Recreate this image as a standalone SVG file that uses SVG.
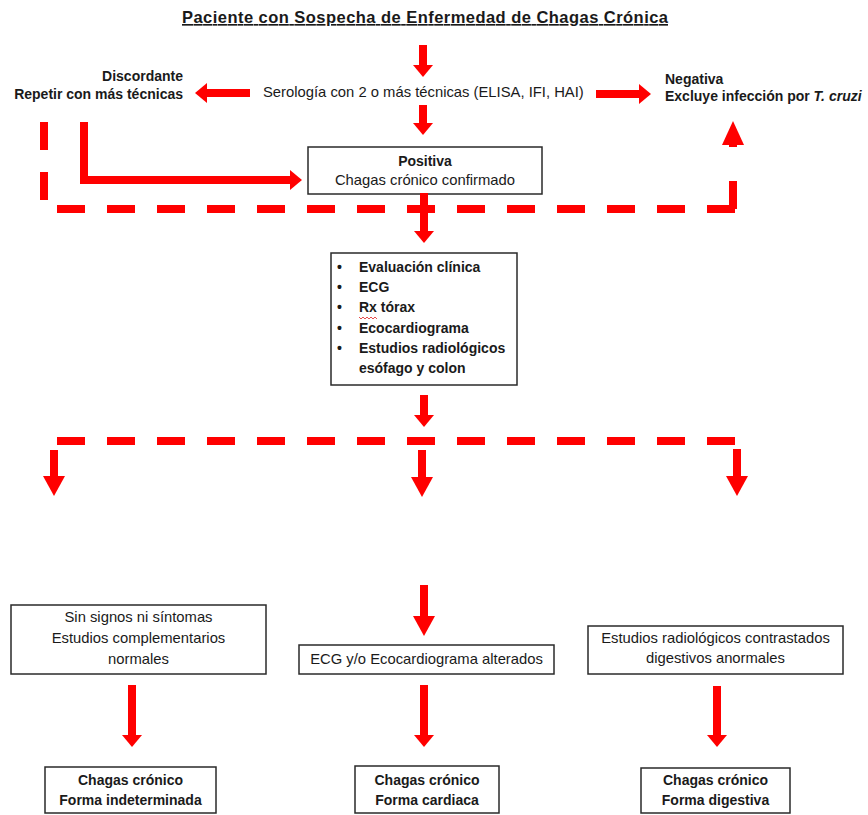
<svg xmlns="http://www.w3.org/2000/svg" width="868" height="815" viewBox="0 0 868 815">
<defs>
<style>
text{font-family:"Liberation Sans",Arial,sans-serif;fill:#1a1a1a}
.r{font-size:14.8px}
.b{font-size:14px;font-weight:bold}
.t{font-size:16.5px;font-weight:bold;text-decoration:underline}
.m{text-anchor:middle}
.e{text-anchor:end}
.box{fill:#fff;stroke:#2a2a2a;stroke-width:1.5}
.a{stroke:#ff0000;stroke-width:8;fill:none}
.d{stroke:#ff0000;stroke-width:8;fill:none;stroke-dasharray:28 22}
</style>
<marker id="hs" markerUnits="userSpaceOnUse" viewBox="0 0 12 20" markerWidth="12" markerHeight="20" refX="0" refY="10" orient="auto"><path d="M0,0 L12,10 L0,20 z" fill="#ff0000"/></marker>
<marker id="hl" markerUnits="userSpaceOnUse" viewBox="0 0 20 22" markerWidth="20" markerHeight="22" refX="0" refY="11" orient="auto"><path d="M0,0 L20,11 L0,22 z" fill="#ff0000"/></marker>
<marker id="hu" markerUnits="userSpaceOnUse" viewBox="0 0 24 22" markerWidth="24" markerHeight="22" refX="0" refY="11" orient="auto"><path d="M0,0 L24,11 L0,22 z" fill="#ff0000"/></marker>
</defs>
<rect width="868" height="815" fill="#fff"/>

<g id="title"><text class="t" x="182" y="23" textLength="486" lengthAdjust="spacing">Paciente con Sospecha de Enfermedad de Chagas Crónica</text></g>

<g id="serologia"><text class="r" x="263" y="97">Serología con 2 o más técnicas (ELISA, IFI, HAI)</text></g>

<g id="discordante">
<text class="b e" x="183" y="81">Discordante</text>
<text class="b e" x="183" y="99">Repetir con más técnicas</text>
</g>

<g id="negativa">
<text class="b" x="665" y="84">Negativa</text>
<text class="b" x="665" y="101">Excluye infección por <tspan font-style="italic">T. cruzi</tspan></text>
</g>

<g id="positiva">
<rect class="box" x="308" y="147" width="234" height="47"/>
<text class="b m" x="425" y="166">Positiva</text>
<text class="r m" x="425" y="185">Chagas crónico confirmado</text>
</g>

<g id="evaluacion">
<rect class="box" x="331" y="253" width="186" height="132"/>
<text class="b" x="337" y="272">•</text><text class="b" x="359" y="272">Evaluación clínica</text>
<text class="b" x="337" y="292">•</text><text class="b" x="359" y="292">ECG</text>
<text class="b" x="337" y="312">•</text><text class="b" x="359" y="312">Rx tórax</text>
<path d="M359,317 l2,2 l2,-2 l2,2 l2,-2 l2,2 l2,-2 l2,2 l2,-2 l2,2" stroke="#e02020" stroke-width="0.8" fill="none"/>
<text class="b" x="337" y="333">•</text><text class="b" x="359" y="333">Ecocardiograma</text>
<text class="b" x="337" y="353">•</text><text class="b" x="359" y="353">Estudios radiológicos</text>
<text class="b" x="359" y="373">esófago y colon</text>
</g>

<g id="indeterminada-criterio">
<rect class="box" x="11" y="605" width="255" height="69"/>
<text class="r m" x="138.5" y="622">Sin signos ni síntomas</text>
<text class="r m" x="138.5" y="643">Estudios complementarios</text>
<text class="r m" x="138.5" y="664">normales</text>
</g>

<g id="cardiaca-criterio">
<rect class="box" x="299" y="645" width="255" height="29"/>
<text class="r m" x="426.5" y="664">ECG y/o Ecocardiograma alterados</text>
</g>

<g id="digestiva-criterio">
<rect class="box" x="588" y="626" width="255" height="48"/>
<text class="r m" x="715.5" y="643">Estudios radiológicos contrastados</text>
<text class="r m" x="715.5" y="663">digestivos anormales</text>
</g>

<g id="forma-indeterminada">
<rect class="box" x="45" y="767" width="171" height="46"/>
<text class="b m" x="130.5" y="785">Chagas crónico</text>
<text class="b m" x="130.5" y="805">Forma indeterminada</text>
</g>

<g id="forma-cardiaca">
<rect class="box" x="355" y="766" width="144" height="47"/>
<text class="b m" x="427" y="785">Chagas crónico</text>
<text class="b m" x="427" y="805">Forma cardiaca</text>
</g>

<g id="forma-digestiva">
<rect class="box" x="641" y="768" width="149" height="45"/>
<text class="b m" x="715.5" y="785">Chagas crónico</text>
<text class="b m" x="715.5" y="805">Forma digestiva</text>
</g>

<g id="connectors">
<line class="a" x1="423" y1="45" x2="423" y2="65" marker-end="url(#hs)"/>
<line class="a" x1="250" y1="93" x2="207" y2="93" marker-end="url(#hs)"/>
<line class="a" x1="596" y1="94" x2="639" y2="94" marker-end="url(#hs)"/>
<line class="a" x1="423" y1="105" x2="423" y2="123" marker-end="url(#hs)"/>
<path class="a" d="M84,122 V180 H290" marker-end="url(#hs)"/>
<path class="d" d="M44,122 V209 H737"/>
<path class="d" d="M733,209 V167"/>
<line class="a" x1="733" y1="147" x2="733" y2="145" marker-end="url(#hu)"/>
<line class="a" x1="424" y1="193" x2="424" y2="231" marker-end="url(#hs)"/>
<line class="a" x1="424" y1="395" x2="424" y2="415" marker-end="url(#hs)"/>
<path class="d" d="M57,441 H754"/>
<line class="a" x1="54" y1="450" x2="54" y2="476" marker-end="url(#hl)"/>
<line class="a" x1="422" y1="450" x2="422" y2="477" marker-end="url(#hl)"/>
<line class="a" x1="737" y1="449" x2="737" y2="476" marker-end="url(#hl)"/>
<line class="a" x1="424" y1="585" x2="424" y2="616" marker-end="url(#hl)"/>
<line class="a" x1="132" y1="685" x2="132" y2="735" marker-end="url(#hs)"/>
<line class="a" x1="424" y1="685" x2="424" y2="735" marker-end="url(#hs)"/>
<line class="a" x1="717" y1="686" x2="717" y2="735" marker-end="url(#hs)"/>
</g>
</svg>
